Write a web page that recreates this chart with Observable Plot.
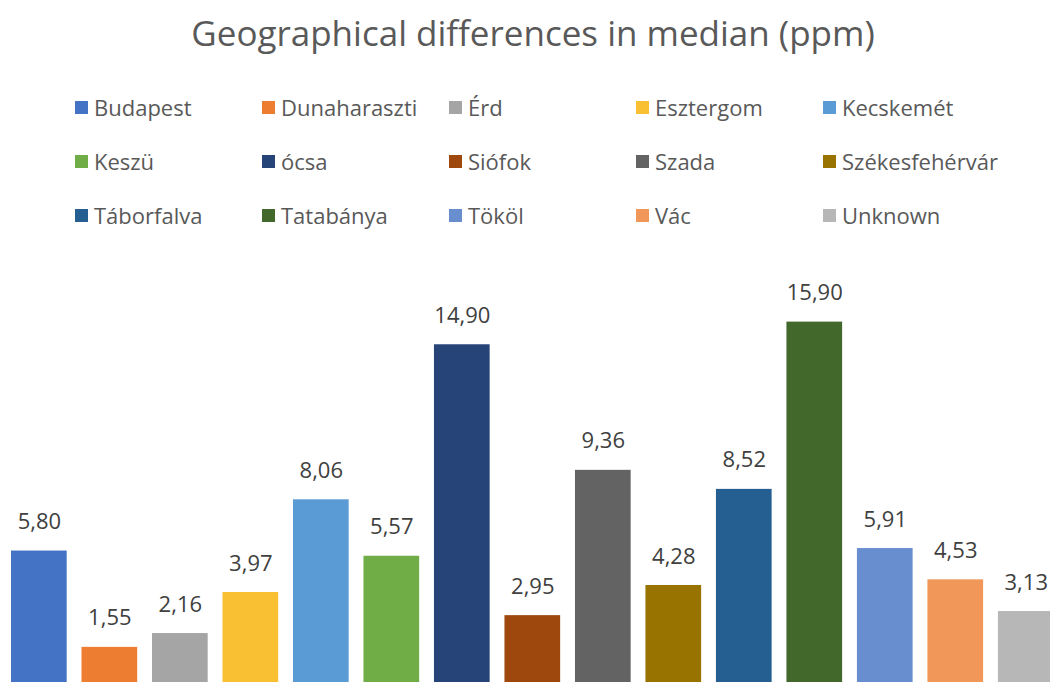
<!DOCTYPE html>
<html>
<head>
<meta charset="utf-8">
<script src="https://cdn.jsdelivr.net/npm/d3@7"></script>
<script src="https://cdn.jsdelivr.net/npm/@observablehq/plot@0.6"></script>
<style>
  html, body { margin: 0; padding: 0; background: #fff; overflow: hidden; width: 1050px; height: 682px; }
  body { position: relative; font-family: "Open Sans", sans-serif; }
  #title { position: absolute; left: 0; width: 1066px; top: 9px; text-align: center; font-size: 35px; color: #595959; line-height: 48px; }
  #legend { position: absolute; left: 75px; top: 92px; }
  .item { position: absolute; height: 30px; display: flex; align-items: center; font-size: 22px; color: #595959; white-space: nowrap; }
  .sw { width: 13px; height: 13px; margin-right: 6px; }
  #chart { position: absolute; left: 0; top: 240px; width: 1062px; height: 442px; }
  #chart svg { max-width: none !important; display: block; }
</style>
</head>
<body>
<div id="title">Geographical differences in median (ppm)</div>
<div id="legend"></div>
<div id="chart"></div>
<script>
const cities = ["Budapest", "Dunaharaszti", "Érd", "Esztergom", "Kecskemét", "Keszü", "ócsa", "Siófok", "Szada", "Székesfehérvár", "Táborfalva", "Tatabánya", "Tököl", "Vác", "Unknown"];
const medians = [5.80, 1.55, 2.16, 3.97, 8.06, 5.57, 14.90, 2.95, 9.36, 4.28, 8.52, 15.90, 5.91, 4.53, 3.13];
const colors = ["#4472C4", "#ED7D31", "#A5A5A5", "#F9C033", "#5B9BD5", "#70AD47", "#264478", "#9E480E", "#636363", "#997300", "#255E91", "#43682B", "#698ED0", "#F1975A", "#B7B7B7"];

const data = cities.map((c, i) => ({city: c, value: medians[i], label: medians[i].toFixed(2).replace(".", ",")}));

// Legend
const legend = document.getElementById("legend");
cities.forEach((c, i) => {
  const d = document.createElement("div");
  d.className = "item";
  d.style.left = (i % 5) * 187 + "px";
  d.style.top = Math.floor(i / 5) * 54 + "px";
  const s = document.createElement("span");
  s.className = "sw";
  s.style.background = colors[i];
  d.appendChild(s);
  d.appendChild(document.createTextNode(c));
  legend.appendChild(d);
});

const chart = Plot.plot({
  width: 1062,
  height: 442,
  marginLeft: 3.6,
  marginRight: 1,
  marginTop: 0,
  marginBottom: 0,
  x: {domain: cities, paddingInner: 0.21, paddingOuter: 0.105, round: false, axis: null},
  y: {domain: [0, 19.5], axis: null},
  color: {domain: cities, range: colors},
  style: {fontFamily: "Open Sans, sans-serif", background: "white", maxWidth: "none"},
  marks: [
    Plot.barY(data, {x: "city", y: "value", fill: "city"}),
    Plot.text(data, {x: "city", y: "value", text: "label", dy: -29, fontSize: 22, fill: "#404040"})
  ]
});
chart.style.maxWidth = "none";
document.getElementById("chart").appendChild(chart);
</script>
</body>
</html>
